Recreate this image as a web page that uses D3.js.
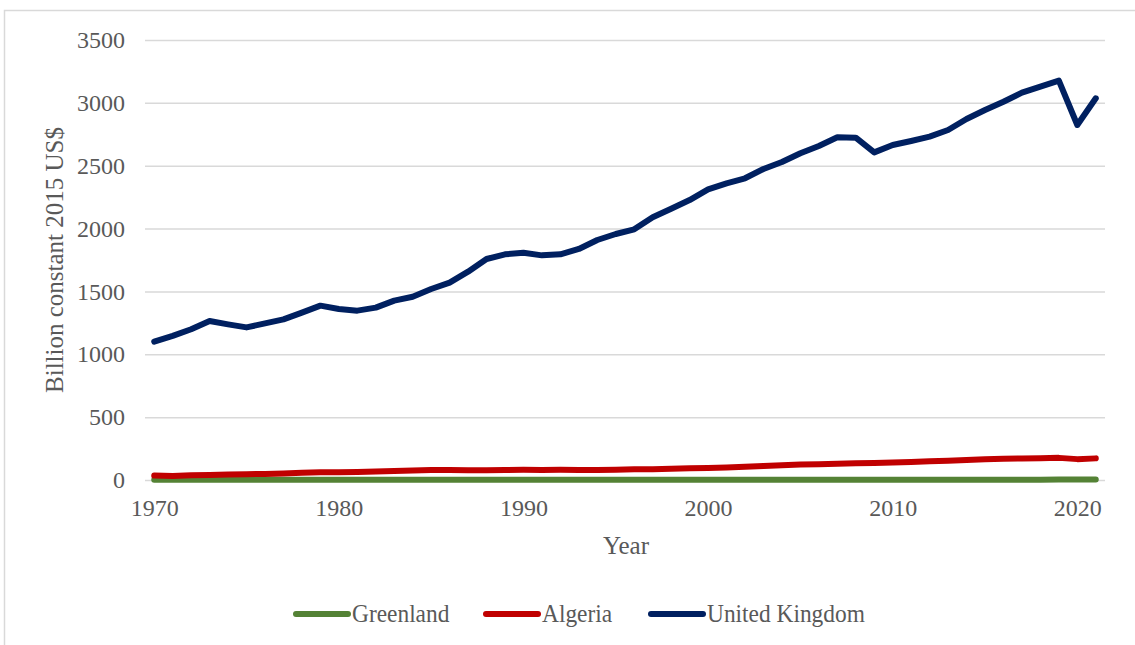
<!DOCTYPE html>
<html><head><meta charset="utf-8">
<script src="https://cdn.jsdelivr.net/npm/d3@7"></script>
<style>body{margin:0;background:#fff;} svg text{font-family:"Liberation Serif","Times New Roman",serif !important;fill:#595959;}</style>
</head><body><svg id="c" width="1135" height="645"></svg>
<script>
const years = d3.range(1970, 2022);
const yTicks = [0, 500, 1000, 1500, 2000, 2500, 3000, 3500];
const xTickLabels = [1970, 1980, 1990, 2000, 2010, 2020];
const seriesNames = ["Greenland", "Algeria", "United Kingdom"];
const seriesColors = ["#548235", "#C00000", "#002060"];
const greenland = [1.2,1.3,1.3,1.4,1.4,1.5,1.5,1.5,1.6,1.6,1.7,1.7,1.7,1.8,1.8,1.9,1.9,2.0,2.0,2.0,2.1,2.1,2.0,2.0,2.0,2.1,2.1,2.2,2.2,2.3,2.3,2.3,2.4,2.4,2.5,2.5,2.5,2.6,2.7,2.6,2.6,2.6,2.6,2.6,2.7,2.7,2.8,2.9,2.9,3.0,3.0,3.0];
const algeria = [35,31,38,40,43,46,48,52,57,61,62,64,68,72,76,79,79,78,77,80,81,80,81,79,79,82,85,86,90,93,96,99,105,112,117,124,126,130,133,135,140,144,149,153,159,165,170,172,174,176,166,172];
const uk = [1100,1146,1199,1265,1238,1214,1246,1278,1331,1387,1360,1347,1371,1427,1458,1519,1570,1657,1758,1795,1808,1787,1795,1838,1909,1957,1994,2090,2158,2227,2312,2360,2400,2474,2530,2599,2657,2726,2723,2606,2665,2697,2731,2784,2872,2943,3009,3081,3129,3177,2824,3036];
const allSeries = [greenland, algeria, uk];

(function(){
const svg = d3.select("#c");
svg.append("rect").attr("x",4.5).attr("y",10.5).attr("width",1200).attr("height",700)
  .attr("fill","none").attr("stroke","#d9d9d9").attr("stroke-width",1.5);

const pL = 145, pR = 1105, pT = 40, pB = 480;
const x = d3.scalePoint().domain(years).range([pL, pR]).padding(0.5);
const y = d3.scaleLinear().domain([0, 3500]).range([pB, pT]);

const yAxis = d3.axisLeft(y).tickValues(yTicks).tickFormat(d3.format("d")).tickSize(-(pR-pL)).tickPadding(20);
const gy = svg.append("g").attr("transform",`translate(${pL},0)`).call(yAxis)
  .attr("font-family",null).attr("font-size",24);
gy.select(".domain").remove();
gy.selectAll(".tick line").attr("stroke","#d9d9d9").attr("stroke-width",1.5);
gy.selectAll(".tick text").attr("x",-20).attr("fill","#595959");

const xAxis = d3.axisBottom(x).tickValues(xTickLabels).tickFormat(d3.format("d")).tickSize(0).tickPadding(19);
const gx = svg.append("g").attr("transform",`translate(0,${pB})`).call(xAxis)
  .attr("font-family",null).attr("font-size",24);
gx.select(".domain").remove();
gx.selectAll(".tick text").attr("fill","#595959");

svg.append("text").attr("x",626).attr("y",554).attr("text-anchor","middle").attr("font-size",25).text("Year");
svg.append("text").attr("transform",`translate(63,${(pT+pB)/2}) rotate(-90)`).attr("text-anchor","middle").attr("font-size",25).text("Billion constant 2015 US$");

const line = d3.line().x((d,i)=>x(years[i])).y(d=>y(d));
allSeries.forEach((s,k)=>{
  svg.append("path").datum(s).attr("d",line).attr("fill","none")
    .attr("stroke",seriesColors[k]).attr("stroke-width",6)
    .attr("stroke-linejoin","round").attr("stroke-linecap","round");
});

const legX = [296, 486, 651];
const lg = svg.append("g");
seriesNames.forEach((n,k)=>{
  lg.append("line").attr("x1",legX[k]).attr("x2",legX[k]+52).attr("y1",614).attr("y2",614)
    .attr("stroke",seriesColors[k]).attr("stroke-width",6).attr("stroke-linecap","round");
  lg.append("text").attr("transform",`translate(${legX[k]+56},622) scale(0.9,1)`).attr("font-size",26).text(n);
});
})();
</script></body></html>
